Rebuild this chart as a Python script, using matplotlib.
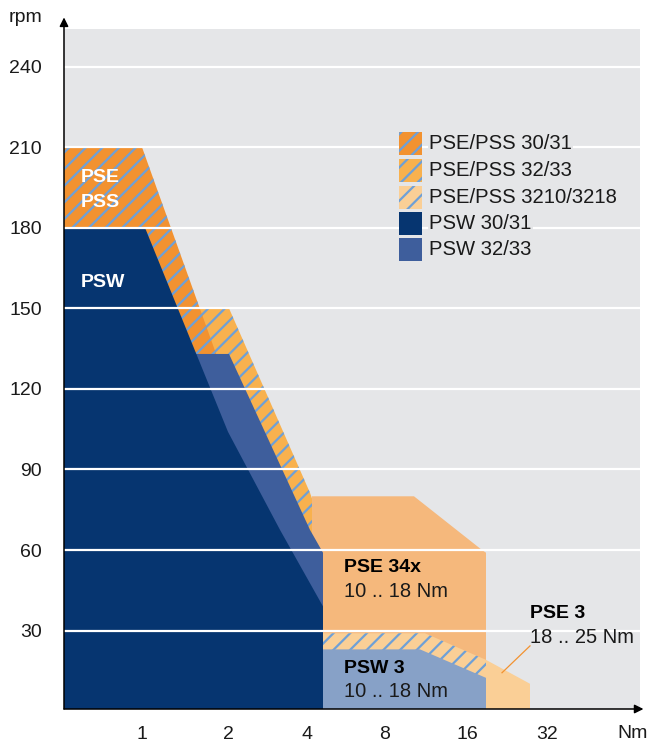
import matplotlib
matplotlib.use('Agg')
import matplotlib.pyplot as plt
from matplotlib.patches import Polygon, Rectangle

plt.rcParams['font.family'] = ['Liberation Sans', 'DejaVu Sans']
plt.rcParams['hatch.linewidth'] = 1.6

# ---------------- data ----------------
x_tick_pos = [7.8, 16.4, 24.3, 32.1, 40.3, 48.3]
x_tick_labels = ['1', '2', '4', '8', '16', '32']
y_ticks = [30, 60, 90, 120, 150, 180, 210, 240]

# envelopes: (position along torque axis, rpm)
pse_pss_3233_x = [0, 16.5, 24.6, 25.9, 25.9, 0]
pse_pss_3233_y = [150, 150, 81.3, 67.5, 0, 0]

pse_pss_3031_x = [0, 7.8, 15.6, 0]
pse_pss_3031_y = [210, 210, 129, 129]

pse_34x_x = [24.8, 35.0, 41.8, 42.2, 42.2, 24.8]
pse_34x_y = [80, 80, 60, 59, 0, 0]

pse_pss_3210_x = [25.9, 36.1, 42.2, 42.2, 25.9]
pse_pss_3210_y = [29, 29, 19.1, 0, 0]

pse_3_x = [42.2, 46.6, 46.6, 42.2]
pse_3_y = [19.1, 10.2, 0, 0]

psw_3233_x = [0, 16.5, 24.6, 25.9, 25.9, 0]
psw_3233_y = [133, 133, 67.5, 59, 0, 0]

psw_3031_x = [0, 8.1, 16.4, 21.6, 25.9, 25.9, 0]
psw_3031_y = [180, 180, 104, 67.5, 39, 0, 0]

psw_3_x = [25.9, 35.6, 42.2, 42.2, 25.9]
psw_3_y = [23, 23, 12.4, 0, 0]

legend_labels = ['PSE/PSS 30/31', 'PSE/PSS 32/33', 'PSE/PSS 3210/3218',
                 'PSW 30/31', 'PSW 32/33']

# ---------------- colours ----------------
BG = '#E5E6E8'
C_DORANGE = '#F29230'
C_MORANGE = '#F8B14E'
C_PEACH = '#FACF96'
C_34X = '#F5B87C'
C_NAVY = '#063570'
C_MBLUE = '#3E5E9C'
C_LBLUE = '#87A1C7'
C_STRIPE = '#6EA0D7'
TXT = '#1a1a1a'

fig = plt.figure(figsize=(6.5, 7.42), dpi=100)
ax = fig.add_axes([64 / 650, 33 / 742, 576 / 650, 680 / 742])
ax.set_facecolor(BG)
ax.set_xlim(0, 57.6)
ax.set_ylim(0.8, 254.0)


def poly(xs, ys, color, hatch=False, z=1):
    pts = list(zip(xs, ys))
    ax.add_patch(Polygon(pts, closed=True, facecolor=color, edgecolor='none',
                         linewidth=0, zorder=z))
    if hatch:
        ax.add_patch(Polygon(pts, closed=True, facecolor='none',
                             edgecolor=C_STRIPE, linewidth=0, hatch='//',
                             zorder=z))


poly(pse_pss_3233_x, pse_pss_3233_y, C_MORANGE, hatch=True, z=1.0)
poly(pse_pss_3031_x, pse_pss_3031_y, C_DORANGE, hatch=True, z=1.1)
poly(pse_34x_x, pse_34x_y, C_34X, z=1.2)
poly(pse_pss_3210_x, pse_pss_3210_y, C_PEACH, hatch=True, z=1.3)
poly(pse_3_x, pse_3_y, C_PEACH, z=1.3)
poly(psw_3233_x, psw_3233_y, C_MBLUE, z=1.4)
poly(psw_3031_x, psw_3031_y, C_NAVY, z=1.5)
poly(psw_3_x, psw_3_y, C_LBLUE, z=1.6)

# grid
ax.set_axisbelow(False)
ax.set_yticks(y_ticks)
ax.yaxis.grid(True, color='white', linewidth=1.6)
ax.set_xticks(x_tick_pos)
ax.set_xticklabels(x_tick_labels)
ax.tick_params(axis='both', length=0, labelsize=14, labelcolor=TXT)
ax.tick_params(axis='y', pad=16)
ax.tick_params(axis='x', pad=12)
for s in ax.spines.values():
    s.set_visible(False)

# axes arrows
arrow = dict(arrowstyle='-|>', lw=1.1, color='black', mutation_scale=13,
             shrinkA=0, shrinkB=0)
ax.annotate('', xy=(0, 1.017), xytext=(0, 0), xycoords='axes fraction',
            arrowprops=arrow, annotation_clip=False, zorder=6)
ax.annotate('', xy=(1.006, 0), xytext=(0, 0), xycoords='axes fraction',
            arrowprops=arrow, annotation_clip=False, zorder=6)

fig.text(42 / 650, 1 - 18 / 742, 'rpm', ha='right', va='center', fontsize=14,
         color=TXT)
fig.text(617 / 650, 1 - 733 / 742, 'Nm', ha='left', va='center', fontsize=14,
         color=TXT)

# labels inside chart
ax.text(1.7, 197, 'PSE', color='white', fontsize=14, fontweight='bold', va='baseline')
ax.text(1.7, 187.6, 'PSS', color='white', fontsize=14, fontweight='bold', va='baseline')
ax.text(1.7, 157.8, 'PSW', color='white', fontsize=14, fontweight='bold', va='baseline')
ax.text(28.0, 51.9, 'PSE 34x', color='black', fontsize=14, fontweight='bold', va='baseline')
ax.text(28.0, 42.6, '10 .. 18 Nm', color=TXT, fontsize=14.5, va='baseline')
ax.text(28.0, 14.3, 'PSW 3', color='black', fontsize=14, fontweight='bold', va='baseline')
ax.text(28.0, 5.3, '10 .. 18 Nm', color=TXT, fontsize=14.5, va='baseline')
ax.text(46.6, 34.8, 'PSE 3', color='black', fontsize=14, fontweight='bold', va='baseline')
ax.text(46.6, 25.5, '18 .. 25 Nm', color=TXT, fontsize=14.5, va='baseline')
ax.plot([43.8, 46.6], [14.3, 24.3], color=C_DORANGE, lw=0.9, zorder=3)

# legend
leg_colors = [C_DORANGE, C_MORANGE, C_PEACH, C_NAVY, C_MBLUE]
leg_hatch = [True, True, True, False, False]
leg_tops = [132, 159, 186, 212, 238]
for lab, col, h, top in zip(legend_labels, leg_colors, leg_hatch, leg_tops):
    y0 = (709 - (top + 23)) / 680
    x0 = (399 - 64) / 576
    w = 23 / 576
    hh = 23 / 680
    ax.add_patch(Rectangle((x0, y0), w, hh, transform=ax.transAxes,
                           facecolor=col, edgecolor='none', lw=0, zorder=4))
    if h:
        ax.add_patch(Rectangle((x0, y0), w, hh, transform=ax.transAxes,
                               facecolor='none', edgecolor=C_STRIPE, lw=0,
                               hatch='//', zorder=4))
    ax.text((429 - 64) / 576, y0 + hh / 2, lab, transform=ax.transAxes,
            fontsize=14.6, color=TXT, va='center', ha='left', zorder=4,
            bbox=dict(facecolor=BG, edgecolor='none', pad=1))

fig.savefig('out.png', dpi=100)
